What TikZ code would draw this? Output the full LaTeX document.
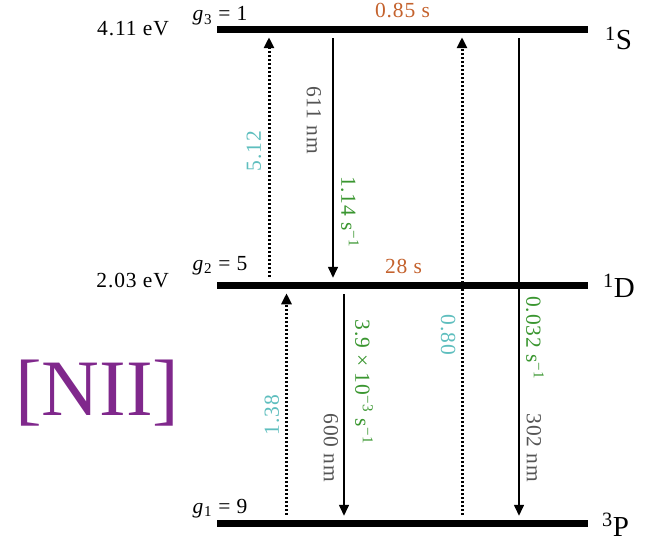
\documentclass[tikz,border=0pt]{standalone}
\usepackage{fontspec}
\setmainfont{Liberation Serif}[LetterSpace=4]
\usepackage{tikz}
\usetikzlibrary{arrows.meta,positioning}

\definecolor{lifeorange}{RGB}{196,98,45}
\definecolor{collcyan}{RGB}{94,190,190}
\definecolor{rategreen}{RGB}{58,150,48}
\definecolor{wavegray}{RGB}{85,85,85}
\definecolor{ionpurple}{RGB}{128,40,140}

\begin{document}
\begin{tikzpicture}[
  x=1pt, y=-1pt,
  font=\fontsize{21.5}{25}\selectfont,
  level/.style={fill=black, inner sep=0pt, outer sep=0pt, minimum width=371pt, minimum height=7.5pt},
  lbl/.style={inner sep=0pt},
  term/.style={inner sep=0pt, font=\fontsize{29}{33}\selectfont},
  life/.style={lbl, text=lifeorange},
  coll/.style={lbl, text=collcyan},
  rate/.style={lbl, text=rategreen},
  wave/.style={lbl, text=wavegray},
  exc/.style={dash pattern=on 2pt off 2pt, line width=3pt, shorten <=5pt, shorten >=4pt,
    -{Triangle[length=11pt,width=10pt]}},
  rad/.style={line width=1.6pt, shorten <=5pt, shorten >=4pt, -{Triangle[length=11pt,width=10pt]}}
]
\useasboundingbox (0,0) rectangle (659,543);

% levels
\node[level] (lS) at (402.5,29.5) {};
\node[level] (lD) at (402.5,285.5) {};
\node[level] (lP) at (402.5,523.5) {};

% energies and weights
\node[lbl, anchor=base east] (eS) at (169,36) {4.11 eV};
\node[lbl, anchor=base east] (eD) at (169,287) {2.03 eV};
\node[lbl, anchor=base] (gS) at (220,21) {\textit{g}\textsubscript{3} = 1};
\node[lbl, anchor=base] (gD) at (220,270) {\textit{g}\textsubscript{2} = 5};
\node[lbl, anchor=base] (gP) at (220,513) {\textit{g}\textsubscript{1} = 9};

% lifetimes
\node[life, anchor=base] (tS) at (402.5,18) {0.85 s};
\node[life, anchor=base] (tD) at (403.5,273) {28 s};

% terms
\node[term, anchor=base west] (nS) at (605,50) {\textsuperscript{1}S};
\node[term, anchor=base west] (nD) at (603,297) {\textsuperscript{1}D};
\node[term, anchor=base west] (nP) at (602,536) {\textsuperscript{3}P};

% ion
\node[inner sep=0pt, anchor=base west, text=ionpurple, font=\fontsize{80}{90}\selectfont\addfontfeature{LetterSpace=0}]
  (ion) at (15,415) {[NII]};

% transitions
\draw[exc] (269,0 |- lD.north) -- (269,0 |- lS.south);
\draw[rad] (333,0 |- lS.south) -- (333,0 |- lD.north);
\draw[exc] (462,0 |- lP.north) -- (462,0 |- lS.south);
\draw[rad] (519,0 |- lS.south) -- (519,0 |- lP.north);
\draw[exc] (286.5,0 |- lP.north) -- (286.5,0 |- lD.south);
\draw[rad] (344,0 |- lD.south) -- (344,0 |- lP.north);

% transition labels
\node[coll, rotate=90] (cSD) at (254,151) {5.12};
\node[wave, rotate=-90] (wSD) at (314,120) {611 nm};
\node[rate, rotate=-90] (aSD) at (350,212) {1.14 s\textsuperscript{−1}};
\node[coll, rotate=-90] (cSP) at (448,335) {0.80};
\node[rate, rotate=-90] (aSP) at (535,338) {0.032 s\textsuperscript{−1}};
\node[wave, rotate=-90] (wSP) at (534,448) {302 nm};
\node[coll, rotate=90] (cDP) at (272,415) {1.38};
\node[wave, rotate=-90] (wDP) at (331,448) {600 nm};
\node[rate, rotate=-90] (aDP) at (364,382) {3.9 × 10\textsuperscript{−3} s\textsuperscript{−1}};
\end{tikzpicture}
\end{document}
